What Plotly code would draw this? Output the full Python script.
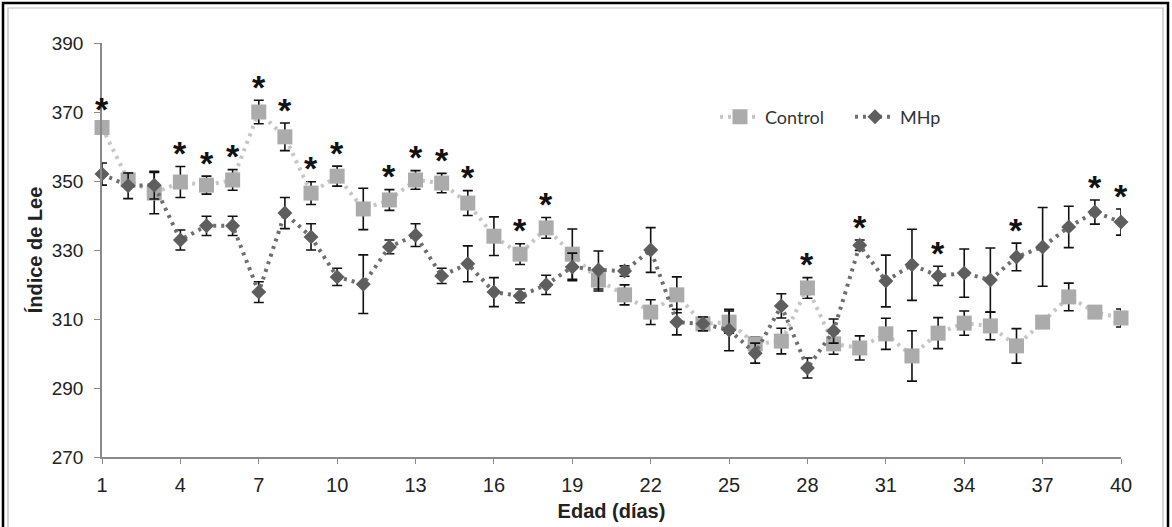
import plotly.graph_objects as go

# Edad (días)
days = list(range(1, 41))

# Índice de Lee, grupo Control (media y error estándar)
control = [365.5, 350.3, 346.5, 349.7, 348.8, 350.3, 370.0, 362.8, 346.5, 351.4,
           341.9, 344.5, 350.3, 349.4, 343.6, 334.0, 328.8, 336.4, 328.8, 321.3,
           317.0, 312.0, 317.0, 308.6, 309.1, 302.8, 303.6, 319.0, 302.8, 301.6,
           305.7, 299.3, 305.9, 308.8, 308.0, 302.2, 309.1, 316.4, 312.0, 310.3]
control_err = [1.5, 2.0, 6.0, 4.5, 2.6, 3.0, 3.4, 4.0, 3.3, 2.9,
               6.0, 3.0, 2.7, 2.8, 3.6, 5.6, 3.0, 3.0, 7.3, 3.2,
               2.9, 3.6, 5.2, 2.0, 3.2, 2.0, 3.7, 3.0, 3.0, 3.5,
               4.5, 7.3, 4.5, 3.5, 4.0, 5.0, 1.5, 4.0, 1.5, 2.6]

# Índice de Lee, grupo MHp (media y error estándar)
mhp = [352.0, 348.6, 348.8, 332.9, 337.0, 337.0, 317.8, 340.7, 333.8, 322.2,
       320.1, 330.9, 334.3, 322.5, 326.0, 317.8, 316.7, 319.9, 325.1, 324.2,
       323.9, 330.0, 309.1, 308.6, 306.8, 300.1, 313.8, 295.8, 306.5, 331.4,
       321.0, 325.7, 322.5, 323.3, 321.3, 328.0, 330.9, 336.7, 341.0, 338.1]
mhp_err = [3.2, 3.7, 4.0, 2.9, 2.8, 2.8, 3.0, 4.5, 3.8, 2.5,
           8.5, 2.0, 3.3, 2.2, 5.2, 4.2, 2.0, 2.8, 4.0, 5.5,
           1.5, 6.5, 3.7, 2.0, 6.0, 2.9, 3.5, 2.9, 3.5, 1.5,
           7.5, 10.3, 2.8, 7.0, 9.3, 4.0, 11.4, 6.0, 3.5, 3.8]

# Días con diferencia significativa entre grupos
significant_days = [1, 4, 5, 6, 7, 8, 9, 10, 12, 13, 14, 15, 17, 18, 28, 30, 33, 36, 39, 40]

x_ticks = list(range(1, 41, 3))
y_ticks = list(range(270, 391, 20))

W, H = 1172, 527
ML, MR, MT, MB = 102, 51, 43, 70
PW, PH = W - ML - MR, H - MT - MB


def px_x(p):
    return (p - ML) / PW


def px_y(p):
    return 1 - (p - MT) / PH


fig = go.Figure()

fig.add_trace(go.Scatter(
    x=days, y=control, name="Control", mode="lines+markers",
    line=dict(color="#C6C6C6", width=4, dash="3px,5px"),
    marker=dict(symbol="square", size=15, color="#ABABAB"),
    error_y=dict(type="data", array=control_err, color="#111111", thickness=1.6, width=5),
    cliponaxis=False,
))

fig.add_trace(go.Scatter(
    x=days, y=mhp, name="MHp", mode="lines+markers",
    line=dict(color="#6E6E6E", width=4, dash="3px,5px"),
    marker=dict(symbol="diamond", size=11.5, color="#5E5E5E"),
    error_y=dict(type="data", array=mhp_err, color="#111111", thickness=1.6, width=5),
    cliponaxis=False,
))

# Asteriscos sobre la barra de error más alta de cada día significativo
for d in significant_days:
    i = d - 1
    top = max(control[i] + control_err[i], mhp[i] + mhp_err[i])
    fig.add_annotation(
        x=d, y=top + 6.5, text="<b>*</b>", showarrow=False,
        font=dict(family="Liberation Sans, Arial", size=34, color="#111111"),
        xanchor="center", yanchor="middle", yshift=-9,
    )

axis_color = "#8A8A8A"

fig.update_xaxes(
    range=[1, 40], tickmode="array", tickvals=x_ticks, automargin=False,
    showline=True, linecolor=axis_color, linewidth=1.5,
    ticks="outside", ticklen=5, tickcolor=axis_color, tickwidth=1.2,
    showgrid=False, zeroline=False, ticklabelstandoff=4,
    tickfont=dict(family="Liberation Sans Narrow, Arial Narrow, Liberation Sans, Arial", size=20, color="#222222"),
    title=dict(text="<b>Edad (días)</b>", standoff=9,
               font=dict(family="Liberation Sans Narrow, Arial Narrow, Liberation Sans, Arial", size=20, color="#222222")),
)

fig.update_yaxes(
    range=[270, 390], tickmode="array", tickvals=y_ticks, automargin=False,
    showline=True, linecolor=axis_color, linewidth=1.5,
    ticks="outside", ticklen=6, tickcolor=axis_color, tickwidth=1.2,
    showgrid=False, zeroline=False, ticklabelstandoff=7,
    tickfont=dict(family="Liberation Sans, Arial", size=19, color="#222222"),
    title=dict(text="<b>Índice de Lee</b>", standoff=4,
               font=dict(family="Liberation Sans, Arial", size=20, color="#222222")),
)

# Marco exterior del gráfico
fig.add_shape(type="rect", xref="paper", yref="paper",
              x0=px_x(3), x1=px_x(1168), y0=px_y(540), y1=px_y(3),
              line=dict(color="#000000", width=2.5), layer="below")
fig.add_shape(type="rect", xref="paper", yref="paper",
              x0=px_x(8), x1=px_x(1163), y0=px_y(540), y1=px_y(8),
              line=dict(color="#BDBDBD", width=1.2), layer="below")

fig.update_layout(
    width=W, height=H,
    margin=dict(l=ML, r=MR, t=MT, b=MB, autoexpand=False),
    paper_bgcolor="white", plot_bgcolor="white",
    showlegend=True,
    legend=dict(
        orientation="h", x=px_x(715), y=px_y(117), xanchor="left", yanchor="middle",
        font=dict(family="Lato, Carlito, Calibri, sans-serif", size=18, color="#333333"),
        bgcolor="rgba(0,0,0,0)", itemwidth=40, tracegroupgap=0, entrywidth=80,
    ),
)

fig.write_html("out.html")
